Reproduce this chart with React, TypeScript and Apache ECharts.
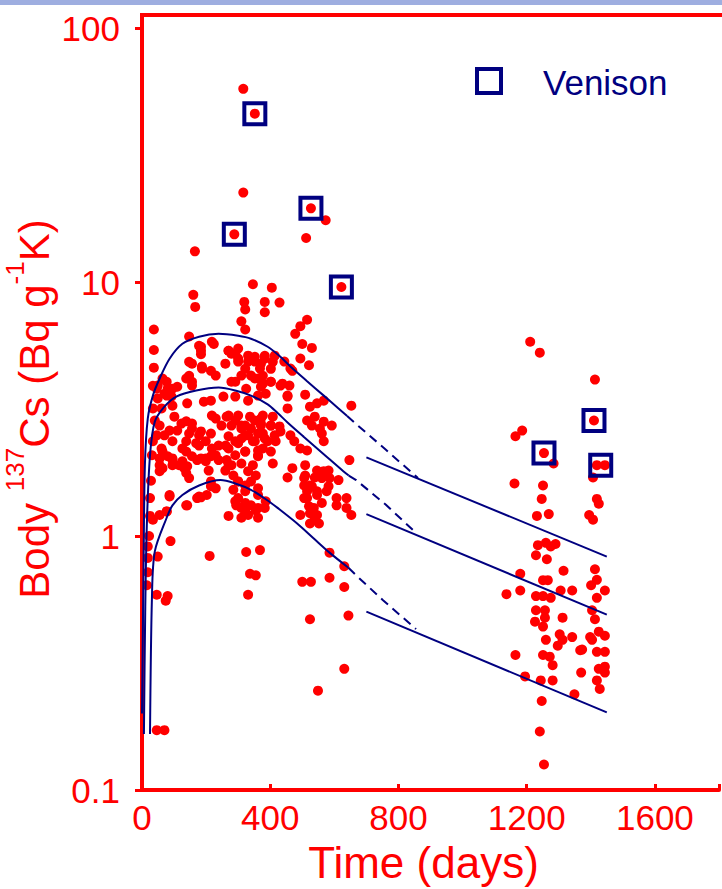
import React, { useEffect, useRef } from 'react';
import * as echarts from 'echarts';

const RED = '#ff0000';
const NAVY = '#000080';
const FONT = '"Liberation Sans", Arial, Helvetica, sans-serif';

const xTickValues = [0, 400, 800, 1200, 1600];
const yTickValues = [0.1, 1, 10, 100];
const yTickLabels = ['0.1', '1', '10', '100'];

// Body 137Cs measurements (days, Bq g-1 K)
const bodyPoints: [number, number][] = [
  [316, 57.6], [352, 46.0], [316, 22.5], [573, 17.5], [527, 19.5], [512, 14.9], [288, 15.4], [165, 13.2],
  [622, 9.56], [346, 9.8], [405, 9.5], [160, 8.9], [166, 7.98], [319, 8.35], [322, 7.8], [383, 8.35],
  [429, 8.3], [383, 7.6], [310, 7.0], [322, 6.5], [515, 7.1], [494, 6.7], [37, 6.5], [478, 6.25],
  [500, 5.7], [530, 5.5], [494, 5.0], [521, 4.7], [37, 5.4], [37, 4.6], [147, 6.1], [34, 3.9], [653, 3.26],
  [184, 5.56], [224, 5.7], [184, 5.2], [147, 4.85], [187, 4.65], [215, 4.47], [147, 4.27], [156, 4.05],
  [270, 5.36], [260, 4.77], [300, 5.47], [300, 5.0], [322, 4.55], [352, 5.08], [77, 4.05], [110, 3.87],
  [70, 3.63], [92, 3.54], [49, 3.48], [34, 3.18], [141, 3.33], [193, 3.38], [215, 3.41], [254, 3.54],
  [291, 3.54], [331, 3.41], [362, 3.57], [95, 3.26], [123, 2.77], [156, 2.77], [218, 2.98], [264, 2.95],
  [300, 2.98], [337, 2.95], [40, 2.85], [86, 2.6], [110, 2.6], [147, 2.53], [184, 2.58], [215, 2.53],
  [248, 2.72], [279, 2.72], [310, 2.65], [331, 2.49], [362, 2.53], [270, 2.47], [138, 2.36], [169, 2.32],
  [199, 2.36], [239, 2.27], [270, 2.21], [300, 2.32], [34, 2.36], [61, 2.21], [55, 2.02], [80, 2.06],
  [31, 2.08], [156, 2.06], [184, 2.02], [215, 2.06], [264, 1.99], [95, 1.9], [126, 1.97], [141, 1.88],
  [208, 1.81], [260, 1.81], [310, 1.93], [55, 1.8], [138, 1.77], [346, 1.9], [355, 1.73], [331, 1.8],
  [215, 1.64], [215, 1.57], [285, 1.52], [300, 1.41], [294, 1.32], [322, 1.35], [355, 1.26], [386, 1.37],
  [86, 1.43], [25, 1.41], [141, 1.32], [184, 1.42], [25, 1.2], [55, 1.21], [77, 1.25], [28, 1.65], [22, 1.0],
  [279, 5.22], [331, 4.86], [368, 4.56], [310, 4.28], [352, 4.17], [291, 4.05], [377, 3.98],
  [291, 2.85], [322, 2.72], [352, 2.85], [371, 2.72], [310, 2.42], [346, 2.36], [377, 2.21], [322, 2.15],
  [291, 2.08], [362, 2.06], [49, 3.91], [80, 3.8], [61, 3.18], [101, 2.95], [55, 2.72], [46, 2.49],
  [70, 2.49], [95, 2.36], [126, 2.21], [64, 1.85], [95, 1.99],
  [132, 1.85], [172, 1.99], [199, 1.97], [230, 2.08], [147, 1.69], [172, 1.41], [202, 1.45], [218, 1.57],
  [270, 1.9], [285, 1.73], [300, 1.64], [322, 1.58], [340, 1.64], [362, 1.54], [291, 1.37], [310, 1.29],
  [331, 1.21], [362, 1.18], [270, 1.2],
  [178, 5.61], [184, 5.36], [218, 5.82], [270, 5.36], [291, 5.22], [300, 4.86], [331, 5.13], [352, 4.86],
  [383, 4.99], [414, 5.13], [444, 4.86], [463, 4.56], [340, 4.28], [362, 4.17], [402, 4.05], [432, 3.91],
  [454, 3.57], [325, 3.8], [279, 4.05], [230, 4.28], [187, 4.56], [156, 4.77], [138, 4.17], [156, 3.91],
  [95, 3.8], [64, 4.17], [77, 3.57], [46, 3.8],
  [138, 2.83], [156, 2.65], [178, 2.49], [230, 2.9], [270, 2.98], [310, 2.72], [340, 2.65], [371, 2.9],
  [402, 2.72], [432, 2.58], [322, 2.49], [352, 2.36], [383, 2.42], [291, 2.36], [261, 2.27], [218, 2.21],
  [178, 2.27], [138, 2.15], [95, 2.02], [64, 2.15], [55, 1.9], [116, 1.9], [199, 2.02], [239, 1.99],
  [279, 1.9], [322, 2.15], [362, 2.08], [402, 2.15],
  [506, 1.69], [524, 1.58], [546, 1.5], [515, 1.41], [536, 1.29], [494, 1.21], [567, 1.8], [585, 1.69],
  [576, 1.5], [607, 1.41], [638, 1.29], [300, 1.64], [322, 1.5], [340, 1.32], [322, 1.25], [383, 1.29],
  [362, 1.45], [230, 1.54], [178, 1.43], [138, 1.32], [86, 1.45], [77, 1.25],
  [383, 5.12], [408, 4.85], [371, 4.77], [402, 4.55], [469, 4.47], [377, 4.27], [402, 4.05], [438, 3.98],
  [460, 3.91], [371, 3.87], [386, 3.63], [454, 3.54], [509, 3.6], [567, 3.41], [546, 3.33], [524, 3.23],
  [454, 3.18], [377, 2.98], [408, 2.95], [371, 2.77], [402, 2.72], [429, 2.7], [515, 2.85], [539, 2.95],
  [567, 2.82], [592, 2.72], [555, 2.65], [530, 2.72], [377, 2.53], [414, 2.49], [463, 2.49], [561, 2.53],
  [567, 2.36], [392, 2.36], [417, 2.36], [475, 2.36], [494, 2.21], [515, 2.17], [647, 1.99], [408, 1.93],
  [469, 1.85], [509, 1.9], [546, 1.81], [582, 1.81], [509, 1.73], [539, 1.7], [561, 1.69], [613, 1.66],
  [454, 1.7], [506, 1.58], [530, 1.57], [582, 1.57], [515, 1.5], [546, 1.45], [506, 1.41], [638, 1.41],
  [561, 1.35], [607, 1.32], [521, 1.31], [524, 1.23], [546, 1.21], [653, 1.21], [362, 1.29], [539, 1.16],
  [524, 1.12], [362, 2.17],
  [552, 1.12], [368, 0.88], [585, 0.86], [631, 0.76], [500, 0.66], [527, 0.66], [585, 0.685], [631, 0.63],
  [524, 0.47], [644, 0.486], [631, 0.3], [549, 0.246],
  [89, 0.955], [211, 0.835], [325, 0.865], [337, 0.71], [355, 0.7], [331, 0.587], [49, 0.83], [18, 0.91],
  [18, 0.82], [18, 0.72], [15, 0.64], [46, 0.587], [80, 0.58], [74, 0.556], [46, 0.172], [70, 0.172],
  [34, 1.16], [310, 1.18],
  [1211, 5.82], [1241, 5.27], [1413, 4.13], [1165, 2.47], [1186, 2.6], [1284, 1.93], [1407, 1.7],
  [1162, 1.61], [1251, 1.58], [1247, 1.4], [1419, 1.4], [1425, 1.34], [1269, 1.22], [1232, 1.2],
  [1395, 1.21], [1407, 1.16], [1235, 0.92], [1260, 0.94], [1290, 0.93], [1275, 0.91], [1229, 0.84],
  [1263, 0.81], [1315, 0.73], [1180, 0.71], [1413, 0.74], [1254, 2.12], [1410, 2.85], [1419, 1.9],
  [1444, 1.9], [1419, 0.672], [1401, 0.64], [1444, 0.61], [1342, 0.61], [1306, 0.61], [1251, 0.67],
  [1266, 0.67], [1180, 0.61], [1137, 0.59],
  [1229, 0.58], [1251, 0.58], [1275, 0.571], [1229, 0.51], [1257, 0.51], [1226, 0.46], [1257, 0.477],
  [1251, 0.44], [1312, 0.477], [1260, 0.39], [1303, 0.41], [1312, 0.39], [1297, 0.37], [1342, 0.4],
  [1251, 0.34], [1272, 0.335], [1281, 0.31], [1165, 0.34], [1195, 0.28], [1244, 0.27], [1281, 0.27],
  [1349, 0.238], [1247, 0.224], [1241, 0.17], [1254, 0.126], [1373, 0.357], [1370, 0.29], [1419, 0.571],
  [1404, 0.51], [1413, 0.47], [1425, 0.42], [1444, 0.405], [1398, 0.4], [1404, 0.39], [1419, 0.35],
  [1444, 0.35], [1367, 0.355], [1425, 0.3], [1444, 0.306], [1444, 0.29], [1419, 0.27], [1428, 0.25],
];

const venisonPoints: [number, number][] = [
  [352, 46.0], [288, 15.4], [527, 19.5], [622, 9.56], [1254, 2.12], [1410, 2.85], [1431, 1.9],
];

// Model curves
const upperCurve: [number, number][] = [
  [0, 0.2], [5, 0.8], [9, 1.9], [18, 2.9], [34, 3.57], [55, 4.17], [86, 4.99], [126, 5.71], [178, 6.09],
  [239, 6.25], [300, 6.14], [340, 5.98], [392, 5.56], [430, 5.1], [463, 4.65], [515, 4.07], [567, 3.57],
  [613, 3.18], [640, 2.97],
];
const upperDashed: [number, number][] = [[640, 2.97], [668, 2.76], [760, 2.19], [861, 1.69]];
const middleCurve: [number, number][] = [
  [6, 0.166], [10, 0.5], [15, 1.1], [25, 2.08], [40, 2.82], [70, 3.23], [107, 3.54], [169, 3.74],
  [239, 3.84], [291, 3.74], [340, 3.57], [392, 3.3], [423, 3.05], [454, 2.8], [506, 2.45], [567, 2.1],
  [628, 1.8], [645, 1.73],
];
const middleDashed: [number, number][] = [[645, 1.73], [668, 1.66], [760, 1.33], [858, 1.02]];
const lowerCurve: [number, number][] = [
  [25, 0.166], [31, 0.571], [40, 0.87], [77, 1.18], [95, 1.32], [126, 1.45], [178, 1.58], [245, 1.66],
  [291, 1.61], [340, 1.52], [392, 1.38], [423, 1.29], [484, 1.12], [535, 0.98], [585, 0.86], [644, 0.75],
];
const lowerDashed: [number, number][] = [[644, 0.75], [668, 0.7], [751, 0.56], [855, 0.43]];
const upperLine: [number, number][] = [[700, 2.04], [1450, 0.83]];
const middleLine: [number, number][] = [[700, 1.22], [1450, 0.49]];
const lowerLine: [number, number][] = [[700, 0.504], [1450, 0.202]];

function curve(name: string, data: [number, number][], dashed = false, smooth: number | boolean = 0.3) {
  return {
    name,
    type: 'line',
    data,
    showSymbol: false,
    symbol: 'none',
    smooth,
    silent: true,
    z: 5,
    lineStyle: { color: NAVY, width: 2, type: dashed ? [9, 6] : 'solid' },
  };
}

export default function App() {
  const ref = useRef<HTMLDivElement>(null);
  useEffect(() => {
    if (!ref.current) return;
    const chart = echarts.init(ref.current, null, { renderer: 'svg' });
    chart.setOption({
      animation: false,
      backgroundColor: '#ffffff',
      grid: { left: 142, top: 28, bottom: 95, right: -7, containLabel: false },
      xAxis: {
        type: 'value',
        min: 0,
        max: 1800,
        interval: 400,
        name: 'Time (days)',
        nameLocation: 'middle',
        nameGap: 50,
        nameTextStyle: { color: RED, fontSize: 44, fontFamily: FONT, padding: [0, 14, 0, 0] },
        axisLine: { lineStyle: { color: RED, width: 4 } },
        axisTick: { inside: true, length: 6, lineStyle: { color: RED, width: 3 } },
        axisLabel: {
          color: RED,
          fontSize: 35,
          fontFamily: FONT,
          margin: 10,
          formatter: (v: number) => (xTickValues.indexOf(v) >= 0 ? String(v) : ''),
        },
        splitLine: { show: false },
      },
      yAxis: {
        type: 'log',
        logBase: 10,
        min: 0.1,
        max: 100,
        axisLine: { lineStyle: { color: RED, width: 4 } },
        axisTick: { inside: false, length: 7, lineStyle: { color: RED, width: 3 } },
        axisLabel: {
          color: RED,
          fontSize: 35,
          fontFamily: FONT,
          margin: 22,
          formatter: (v: number) => {
            for (let i = 0; i < yTickValues.length; i++) {
              if (Math.abs(v - yTickValues[i]) / yTickValues[i] < 1e-6) return yTickLabels[i];
            }
            return '';
          },
        },
        splitLine: { show: false },
        minorTick: { show: false },
      },
      series: [
        curve('upper', upperCurve),
        curve('upperDashed', upperDashed, true, false),
        curve('middle', middleCurve),
        curve('middleDashed', middleDashed, true, false),
        curve('lower', lowerCurve),
        curve('lowerDashed', lowerDashed, true, false),
        curve('upperLine', upperLine, false, false),
        curve('middleLine', middleLine, false, false),
        curve('lowerLine', lowerLine, false, false),
        {
          name: 'Body',
          type: 'scatter',
          data: bodyPoints,
          symbol: 'circle',
          symbolSize: 10,
          itemStyle: { color: RED, opacity: 1 },
          silent: true,
          z: 3,
        },
        {
          name: 'Venison',
          type: 'scatter',
          data: venisonPoints,
          symbol: 'rect',
          symbolSize: 21,
          itemStyle: { color: 'rgba(0,0,0,0)', borderColor: NAVY, borderWidth: 4, opacity: 1 },
          silent: true,
          z: 6,
        },
      ],
      graphic: [
        { type: 'rect', left: 0, top: 0, shape: { x: 0, y: 0, width: 722, height: 5 }, style: { fill: '#9eaee0' }, silent: true },
        { type: 'line', shape: { x1: 140, y1: 15, x2: 722, y2: 15 }, style: { stroke: RED, lineWidth: 4 }, silent: true },
        { type: 'line', shape: { x1: 142, y1: 13, x2: 142, y2: 30 }, style: { stroke: RED, lineWidth: 4 }, silent: true },
        { type: 'rect', shape: { x: 477, y: 69, width: 24, height: 24 }, style: { fill: 'none', stroke: NAVY, lineWidth: 4 }, silent: true },
        {
          type: 'text',
          x: 543,
          y: 82,
          style: { text: 'Venison', fill: NAVY, fontSize: 35, fontFamily: FONT, align: 'left', verticalAlign: 'middle' },
          silent: true,
        },
        {
          type: 'text',
          x: 34,
          y: 409,
          rotation: Math.PI / 2,
          style: {
            text: '{a|Body }{b|137}{a|Cs (Bq g}{b|-1}{a|K)}',
            align: 'center',
            verticalAlign: 'middle',
            fill: RED,
            fontFamily: FONT,
            rich: {
              a: { fontSize: 42, lineHeight: 64, fill: RED, fontFamily: FONT },
              b: { fontSize: 26, lineHeight: 26, verticalAlign: 'top', fill: RED, fontFamily: FONT },
            },
          },
          silent: true,
        },
      ],
    });
    return () => chart.dispose();
  }, []);
  return (
    <div
      ref={ref}
      style={{ position: 'fixed', left: 0, top: 0, width: 722, height: 889, background: '#ffffff' }}
    />
  );
}
